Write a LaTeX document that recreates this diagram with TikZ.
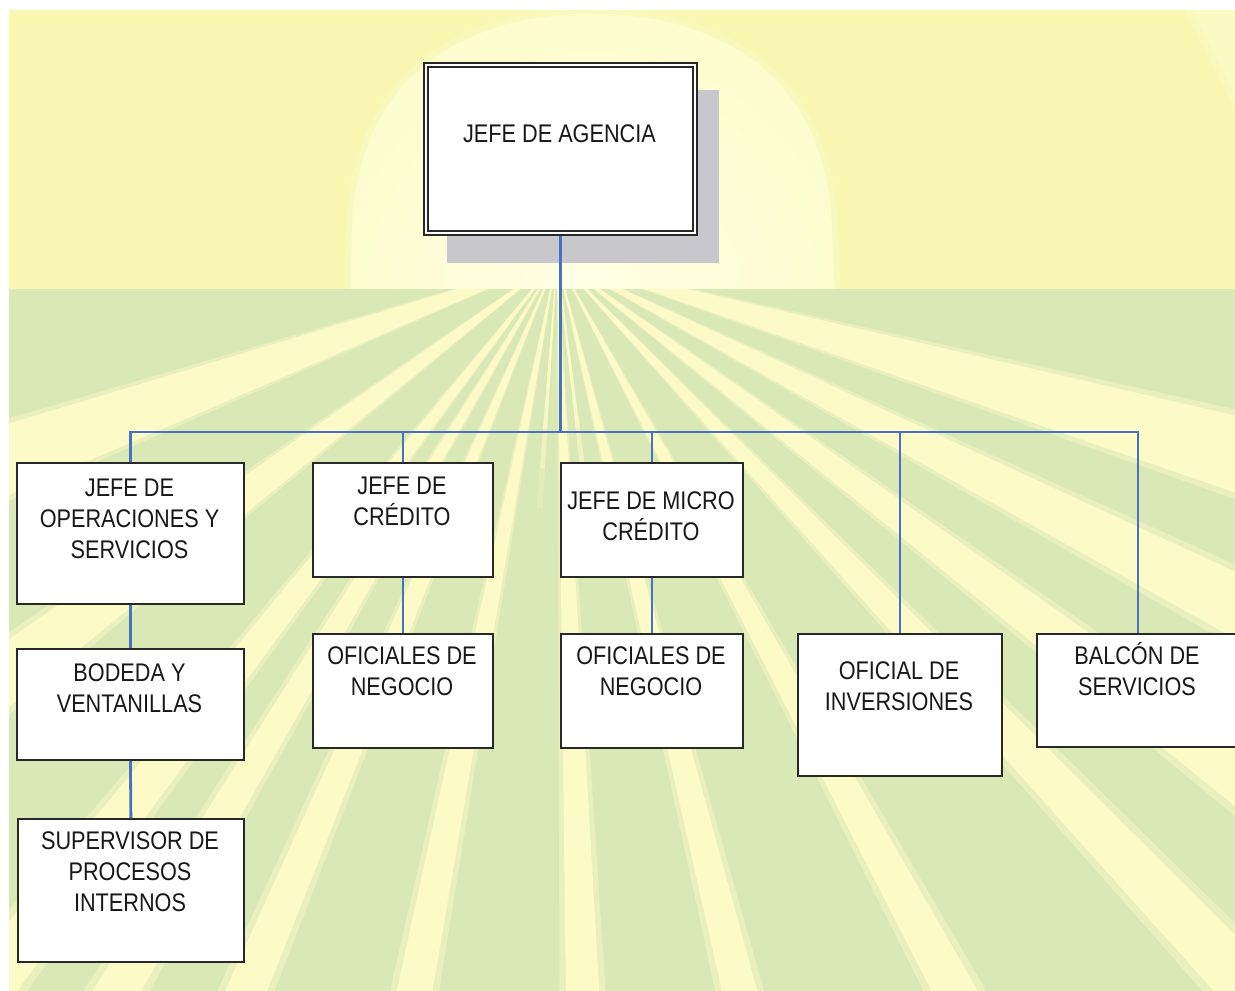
\documentclass[tikz,border=0pt]{standalone}
\usepackage{fontspec}
\setmainfont{Liberation Sans}[FakeStretch=0.85]
\definecolor{sky}{RGB}{249,247,178}
\definecolor{sun}{RGB}{253,252,204}
\definecolor{sunin}{RGB}{255,255,230}
\definecolor{grass}{RGB}{218,232,181}
\definecolor{raycol}{RGB}{252,251,200}
\definecolor{boxline}{RGB}{40,40,40}
\definecolor{shadowc}{RGB}{200,200,204}
\definecolor{connblue}{RGB}{70,114,196}
\definecolor{txt}{RGB}{24,24,24}
\begin{document}
\begin{tikzpicture}[x=1pt,y=-1pt,
  box/.style={draw=boxline, line width=1.8pt, fill=white, inner sep=0pt, anchor=north west},
  lbl/.style={align=center, inner sep=0pt, text=txt, font=\fontsize{25.5}{31}\selectfont, anchor=base},
  conn/.style={draw=connblue, line width=2.8pt},
  raystyle/.style={fill=raycol}]

\useasboundingbox (0,0) rectangle (1235,991);
\fill[white] (0,0) rectangle (1235,991);

% sky with the rising sun
\begin{scope}
  \clip (9,10) rectangle (1235,290);
  \fill[sky] (9,10) rectangle (1235,290);
  \path[draw=sun, line width=12pt, opacity=0.45]
    (350,300) -- (352,230) .. controls (358,70) and (470,14) .. (592,14)
    .. controls (714,14) and (826,70) .. (832,230) -- (835,300);
  \fill[sun]
    (350,300) -- (352,230) .. controls (358,70) and (470,14) .. (592,14)
    .. controls (714,14) and (826,70) .. (832,230) -- (835,300) -- cycle;
  \begin{scope}
    \clip (350,300) -- (352,230) .. controls (358,70) and (470,14) .. (592,14)
      .. controls (714,14) and (826,70) .. (832,230) -- (835,300) -- cycle;
    \shade[inner color=sunin, outer color=sun] (592,300) ellipse (300 and 300);
  \end{scope}
  \fill[raycol, opacity=0.4] (1184,10) -- (1235,10) -- (1235,110) -- cycle;
  \fill[raycol, opacity=0.7] (1192,10) -- (1235,10) -- (1235,96) -- cycle;
\end{scope}

% ground with light beams
\begin{scope}
  \clip (9,289) rectangle (1235,991);
  \fill[grass] (9,289) rectangle (1235,991);
  \foreach \a/\w in {-70/6.6,-53/4.5,-38/3.2,-31/2.8,-23/2.8,-11/2.7,
                     2/2.6,14/2.6,28.5/2.8,43.5/3.2,53/3.8,63/4.5,74/6}{
    \fill[raycol, opacity=0.45] (557,259) -- +({90-\a-\w/2-0.5}:1700) -- +({90-\a+\w/2+0.5}:1700) -- cycle;
    \fill[raystyle] (557,259) -- +({90-\a-\w/2}:1700) -- +({90-\a+\w/2}:1700) -- cycle;
  }
  % short thin beams near the horizon, fading out
  \foreach \a in {-4,7}{
    \foreach \r/\o in {130/1,170/0.7,210/0.45,250/0.25}{
      \fill[raycol, opacity=\o] (557,259) -- +({90-\a-0.7}:\r) -- +({90-\a+0.7}:\r) -- cycle;
    }
  }
\end{scope}

% top box with its shadow and double frame
\fill[shadowc] (447,90) rectangle (719,263);
\node[box, line width=2pt, minimum width=273pt, minimum height=172pt] (agencia) at (423,62) {};
\draw[boxline, line width=1.4pt] ([shift={(5,5)}]agencia.north west) rectangle ([shift={(-5,-5)}]agencia.south east);
\node[lbl] (tagencia) at (559.5,142.5) {JEFE DE AGENCIA};

% second level
\node[box, minimum width=227pt, minimum height=141pt] (ops) at (16,462) {};
\node[box, minimum width=180pt, minimum height=114pt] (credito) at (312,462) {};
\node[box, minimum width=182pt, minimum height=114pt] (micro) at (560,462) {};
\node[box, minimum width=204pt, minimum height=142pt] (inv) at (797,633) {};
\node[box, minimum width=202pt, minimum height=113pt] (balcon) at (1036,633) {};

% lower levels
\node[box, minimum width=227pt, minimum height=111pt] (bodega) at (16,648) {};
\node[box, minimum width=226pt, minimum height=143pt] (sup) at (17,818) {};
\node[box, minimum width=180pt, minimum height=114pt] (of1) at (312,633) {};
\node[box, minimum width=182pt, minimum height=114pt] (of2) at (560,633) {};

% labels (anchored on the baseline of their last line)
\node[lbl] (tops) at (129.5,558.5) {JEFE DE\\OPERACIONES Y\\SERVICIOS};
\node[lbl] (tbodega) at (129.5,712.5) {BODEDA Y\\VENTANILLAS};
\node[lbl] (tsup) at (130,911.5) {SUPERVISOR DE\\PROCESOS\\INTERNOS};
\node[lbl] (tcredito) at (402,525.5) {JEFE DE\\CRÉDITO};
\node[lbl] (tmicro) at (651,540.5) {JEFE DE MICRO\\CRÉDITO};
\node[lbl] (tof1) at (402,695.5) {OFICIALES DE\\NEGOCIO};
\node[lbl] (tof2) at (651,695.5) {OFICIALES DE\\NEGOCIO};
\node[lbl] (tinv) at (899,710.5) {OFICIAL DE\\INVERSIONES};
\node[lbl] (tbalcon) at (1137,695.5) {BALCÓN DE\\SERVICIOS};

% connectors
\coordinate (bus) at (560,432);
\draw[conn, line width=3.2pt] (agencia.south) -- (agencia.south |- bus);
\draw[conn] (ops.north) |- (balcon.north |- bus) -- (balcon.north);
\foreach \n in {credito,micro,inv}
  \draw[conn] (\n.north |- bus) -- (\n.north);
\draw[conn] (ops.south) -- (bodega.north);
\draw[conn] (bodega.south) -- (sup.north);
\draw[conn] (credito.south) -- (of1.north);
\draw[conn] (micro.south) -- (of2.north);
\end{tikzpicture}
\end{document}
